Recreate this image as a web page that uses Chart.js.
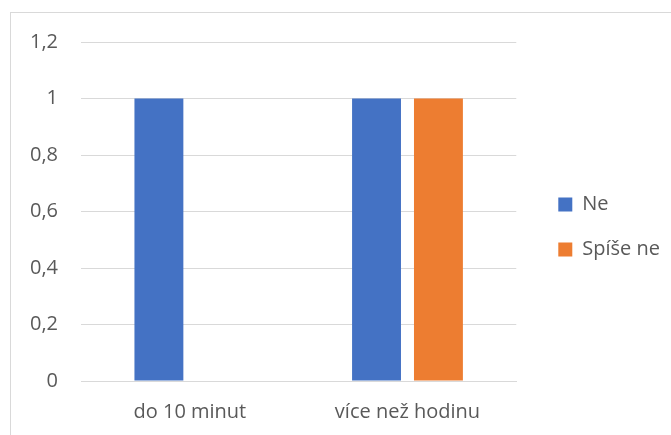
<!DOCTYPE html>
<html>
<head>
<meta charset="utf-8">
<script src="https://cdn.jsdelivr.net/npm/chart.js@4"></script>
<style>
	html, body { margin: 0; padding: 0; background: #fff; }
	#frame {
		position: absolute;
		left: 10px;
		top: 12px;
		width: 661px;
		height: 423px;
		border-left: 1px solid #d9d9d9;
		border-top: 1px solid #d9d9d9;
	}
	#chart { display: block; }
</style>
</head>
<body>
<div id="frame">
	<canvas id="chart" width="660" height="422"></canvas>
</div>
<script>
let categories = ['do 10 minut', 'více než hodinu'];
let neValues = [1, 1];
let spiseNeValues = [0, 1];
let yTickLabels = ['0', '0,2', '0,4', '0,6', '0,8', '1', '1,2'];

const ctx = document.getElementById('chart').getContext('2d');

Chart.defaults.font.family = '"Open Sans", sans-serif';
Chart.defaults.font.size = 20;
Chart.defaults.color = '#595959';

// keeps some white space between the plot and the legend on the right
let legendGap = {
	id: 'legendGap',
	beforeLayout: function (chart) {
		let legend = chart.legend;
		if (legend && !legend._gapPatched) {
			let fit = legend.fit;
			legend.fit = function () {
				fit.call(this);
				this.width += 18;
			};
			legend._gapPatched = true;
		}
	},
	afterLayout: function (chart) {
		if (chart.legend) {
			chart.legend.left += 17;
			chart.legend.top -= 7;
			chart.legend.bottom -= 7;
		}
	}
};

const chart = new Chart(ctx, {
	type: 'bar',
	data: {
		labels: categories,
		datasets: [{
			label: 'Ne',
			data: neValues,
			backgroundColor: '#4472C4',
			categoryPercentage: 0.569,
			barPercentage: 0.79
		}, {
			label: 'Spíše ne',
			data: spiseNeValues,
			backgroundColor: '#ED7D31',
			categoryPercentage: 0.569,
			barPercentage: 0.79
		}]
	},
	options: {
		responsive: false,
		animation: false,
		layout: {
			padding: { left: -4, top: 12, bottom: -8, right: 0 }
		},
		plugins: {
			legend: {
				position: 'right',
				labels: {
					boxWidth: 14,
					boxHeight: 14,
					padding: 25,
					color: '#595959'
				}
			},
			tooltip: { enabled: false }
		},
		scales: {
			y: {
				min: 0,
				max: 1.2,
				border: { display: false },
				grid: { color: '#d9d9d9', drawTicks: false },
				ticks: {
					stepSize: 0.2,
					padding: 23,
					callback: function (value, index) {
						return yTickLabels[index];
					}
				},
				// room above the top tick only needs half a label, not the tick padding
				afterFit: function (scale) {
					scale.paddingTop = 29;
				}
			},
			x: {
				border: { display: true, color: '#d9d9d9' },
				grid: { display: false, drawTicks: false },
				ticks: { padding: 19 }
			}
		}
	},
	plugins: [legendGap]
});
</script>
</body>
</html>
